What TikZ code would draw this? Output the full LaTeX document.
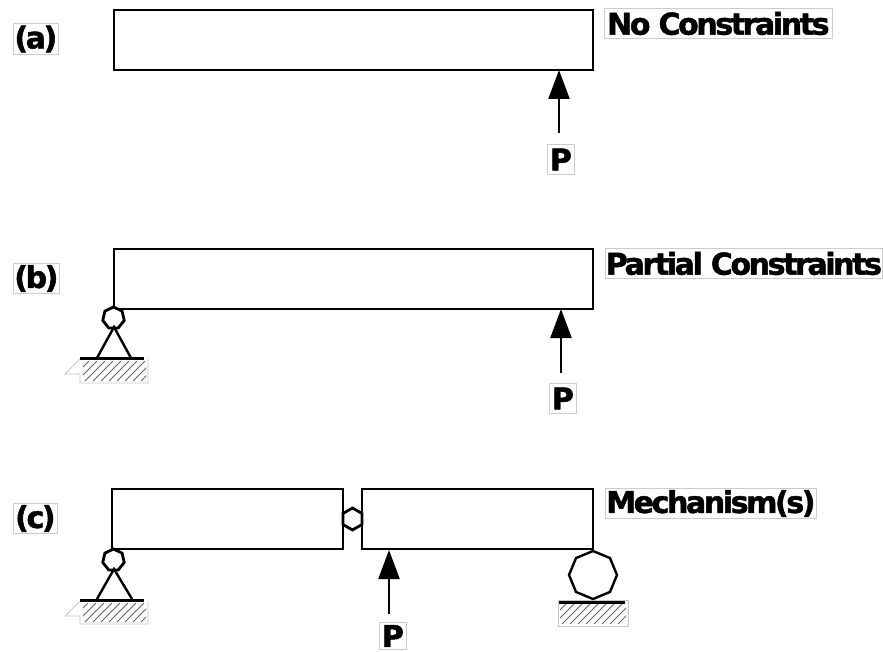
\documentclass[tikz,border=0pt]{standalone}
\usepackage{fontspec}
\setmainfont{DejaVu Sans}
\newfontfamily\lblfont[LetterSpace=-8,FakeBold=1.6]{DejaVu Sans Bold}
\usetikzlibrary{arrows.meta,shapes.geometric}
\tikzset{
  beam/.style={draw=black,line width=2.5pt,fill=white,minimum height=60pt,anchor=north west,inner sep=0pt,outer sep=0pt},
  tag/.style={draw=black!20,line width=.7pt,fill=white,inner sep=0pt,minimum height=30.5pt,anchor=west,text=black,font=\fontsize{30pt}{30pt}\selectfont\lblfont},
  force/.style={line width=2.2pt,-{Triangle[length=29pt,width=21pt]},shorten >=-1pt},
  hingep/.style={regular polygon,regular polygon sides=7,draw=black,line width=2.8pt,fill=white,minimum size=22pt,inner sep=0pt,outer sep=0pt},
  strut/.style={line width=2.4pt,line join=miter},
  ground/.style={line width=3pt},
  hatchline/.style={draw=black!60,line width=.8pt},
  hatchedge/.style={draw=black!22,line width=.9pt,fill=none}
}
\newcommand{\hatchfill}[4]{%
  \begin{scope}
    \clip (#1,#2) rectangle (#3,#4);
    \foreach \hx in {0,8,...,110} {
      \draw[hatchline] ({#1+\hx-30},#4) -- ({#1+\hx-30+(#4-#2)},#2);
    }
  \end{scope}}
\begin{document}
\begin{tikzpicture}[x=1pt,y=-1pt]
\useasboundingbox (0,0) rectangle (883,652);
% ---- (a)
\node[beam,minimum width=479pt] (ba) at (114,10) {};
\node[tag,minimum width=45pt] (la) at (13,39) {(a)};
\node[tag,minimum width=228pt] (na) at (604,23.5) {No Constraints};
\node[tag,minimum width=27pt] (pa) at (547,159.5) {P};
\coordinate (ta) at (559,71);
\coordinate (ea) at (559,133);
\draw[force] (ea) -- (ta);
% ---- (b)
\node[beam,minimum width=479pt] (bb) at (114,249) {};
\node[tag,minimum width=46pt] (lb) at (13,278.5) {(b)};
\node[tag,minimum width=277pt] (nb) at (605,263.5) {Partial Constraints};
\node[tag,minimum width=27pt] (pb) at (549,398.5) {P};
\coordinate (tb) at (561,310);
\coordinate (eb) at (561,373);
\draw[force] (eb) -- (tb);
\draw[hatchedge] (80,359) -- (65,374) -- (80,374) -- (80,383) -- (148,383) -- (148,359);
\hatchfill{83}{361}{146}{381}
\node[hingep] (hb) at (113.5,318) {};
\coordinate (ab) at (114,327);
\coordinate (lbb) at (97,358);
\coordinate (rbb) at (131,358);
\coordinate (gbl) at (80,358.5);
\coordinate (gbr) at (144,358.5);
\draw[strut] (lbb) -- (ab) -- (rbb);
\draw[ground] (gbl) -- (gbr);
% ---- (c)
\node[beam,minimum width=231pt] (bcl) at (112,489) {};
\node[beam,minimum width=231pt] (bcr) at (362,489) {};
\node[tag,minimum width=44pt] (lc) at (13,518.5) {(c)};
\node[tag,minimum width=211pt] (nc) at (605,503.5) {Mechanism(s)};
\node[tag,minimum width=27pt,minimum height=27pt] (pc) at (379,636) {P};
\coordinate (tc) at (389,551);
\coordinate (ec) at (389,614);
\draw[force] (ec) -- (tc);
\node[hingep,regular polygon sides=6,shape border rotate=30] (hm) at (352.5,519) {};
\draw[hatchedge] (80,601) -- (65,616) -- (80,616) -- (80,624) -- (148,624) -- (148,601);
\hatchfill{83}{603}{146}{622}
\node[hingep] (hc) at (113.5,560) {};
\coordinate (ac) at (114,569);
\coordinate (lcc) at (97,599);
\coordinate (rcc) at (132,599);
\coordinate (gcl) at (80,600);
\coordinate (gcr) at (144,600);
\draw[strut] (lcc) -- (ac) -- (rcc);
\draw[ground] (gcl) -- (gcr);
\draw[hatchedge] (558,600) rectangle (628,626);
\hatchfill{560}{604}{626}{624}
\node[regular polygon,regular polygon sides=8,shape border rotate=22.5,draw=black,line width=2.4pt,fill=white,minimum size=48pt,inner sep=0pt,outer sep=0pt] (rc) at (593,575) {};
\coordinate (grl) at (559,602);
\coordinate (grr) at (625,602);
\draw[ground] (grl) -- (grr);
\end{tikzpicture}
\end{document}
